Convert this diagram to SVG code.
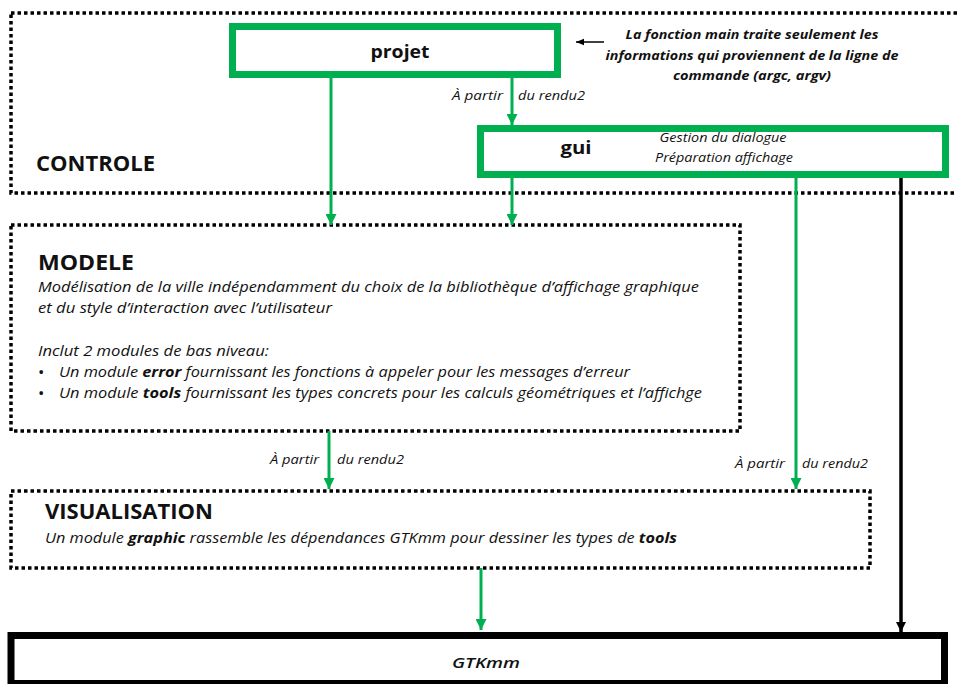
<svg xmlns="http://www.w3.org/2000/svg" width="957" height="684" viewBox="0 0 957 684">
<style>
text{font-family:"Open Sans","Liberation Sans",sans-serif;fill:#111}
.dot{fill:none;stroke:#000;stroke-width:3.5;stroke-dasharray:3.5 3}
.gbox{fill:#fff;stroke:#00B050;stroke-width:7}
.kbox{fill:#fff;stroke:#000;stroke-width:7}
.h{font-weight:bold;font-size:22px}
.nm{font-weight:bold;font-size:18px;text-anchor:middle}
.it{font-style:italic;font-size:14.5px}
.sm{font-style:italic;font-size:12px}
.lab{font-style:italic;font-size:12.5px}
.ann{font-style:italic;font-weight:bold;font-size:13px;text-anchor:middle}
.b{font-weight:bold}
.g{stroke:#00B050;stroke-width:3;fill:none;marker-end:url(#ga)}
.k{stroke:#000;stroke-width:3.5;fill:none;marker-end:url(#ka)}
</style>
<defs>
<marker id="ga" viewBox="0 0 10 10" refX="10" refY="5" markerWidth="11" markerHeight="11" markerUnits="userSpaceOnUse" orient="auto"><path d="M0,0L10,5L0,10z" fill="#00B050"/></marker>
<marker id="ka" viewBox="0 0 10 10" refX="10" refY="5" markerWidth="10" markerHeight="10" markerUnits="userSpaceOnUse" orient="auto"><path d="M0,0L10,5L0,10z" fill="#000"/></marker>
<marker id="ks" viewBox="0 0 10 10" refX="10" refY="5" markerWidth="8" markerHeight="8" markerUnits="userSpaceOnUse" orient="auto"><path d="M0,1L10,5L0,9z" fill="#000"/></marker>
</defs>
<rect width="957" height="684" fill="#fff"/>

<g id="controle">
<rect class="dot" x="11" y="13" width="960" height="180"/>
<text class="h" x="36" y="171" textLength="119" lengthAdjust="spacingAndGlyphs">CONTROLE</text>
</g>

<g id="modele">
<rect class="dot" x="11" y="225" width="729" height="206"/>
<text class="h" x="38" y="270" textLength="96" lengthAdjust="spacingAndGlyphs">MODELE</text>
<text class="it" x="38" y="292" textLength="661" lengthAdjust="spacingAndGlyphs">Modélisation de la ville indépendamment du choix de la bibliothèque d’affichage graphique</text>
<text class="it" x="38" y="313" textLength="294" lengthAdjust="spacingAndGlyphs">et du style d’interaction avec l’utilisateur</text>
<text class="it" x="38" y="356" textLength="231" lengthAdjust="spacingAndGlyphs">Inclut 2 modules de bas niveau:</text>
<text x="38" y="378" font-size="17">•</text>
<text class="it" x="59" y="377" textLength="571" lengthAdjust="spacingAndGlyphs">Un module <tspan class="b">error</tspan> fournissant les fonctions à appeler pour les messages d’erreur</text>
<text x="38" y="399" font-size="17">•</text>
<text class="it" x="59" y="398" textLength="643" lengthAdjust="spacingAndGlyphs">Un module <tspan class="b">tools</tspan> fournissant les types concrets pour les calculs géométriques et l’affichge</text>
</g>

<g id="visualisation">
<rect class="dot" x="11" y="491" width="859" height="77"/>
<text class="h" x="45" y="519" textLength="168" lengthAdjust="spacingAndGlyphs">VISUALISATION</text>
<text class="it" x="45" y="543" textLength="632" lengthAdjust="spacingAndGlyphs">Un module <tspan class="b">graphic</tspan> rassemble les dépendances GTKmm pour dessiner les types de <tspan class="b">tools</tspan></text>
</g>

<g id="projet">
<rect class="gbox" x="232.5" y="26.5" width="325" height="48"/>
<text class="nm" x="400" y="58" textLength="59" lengthAdjust="spacingAndGlyphs">projet</text>
</g>

<g id="gui">
<rect class="gbox" x="480.5" y="128.5" width="465" height="46"/>
<text class="nm" x="576" y="154" textLength="31" lengthAdjust="spacingAndGlyphs">gui</text>
<text class="sm" x="723" y="142" text-anchor="middle" textLength="127" lengthAdjust="spacingAndGlyphs">Gestion du dialogue</text>
<text class="sm" x="724" y="162" text-anchor="middle" textLength="138" lengthAdjust="spacingAndGlyphs">Préparation affichage</text>
</g>

<g id="gtkmm">
<rect class="kbox" x="11" y="635.5" width="933.5" height="48"/>
<text class="it" x="486" y="668" text-anchor="middle" font-size="15" font-weight="600" textLength="68" lengthAdjust="spacingAndGlyphs">GTKmm</text>
</g>

<g id="note">
<text class="ann" x="752" y="39" textLength="253" lengthAdjust="spacingAndGlyphs">La fonction main traite seulement les</text>
<text class="ann" x="752" y="60" textLength="293" lengthAdjust="spacingAndGlyphs">informations qui proviennent de la ligne de</text>
<text class="ann" x="752" y="80" textLength="158" lengthAdjust="spacingAndGlyphs">commande (argc, argv)</text>
</g>

<g id="connectors">
<line class="g" x1="331" y1="78" x2="331" y2="225"/>
<line class="g" x1="512" y1="78" x2="512" y2="125"/>
<line class="g" x1="512" y1="178" x2="512" y2="225"/>
<line class="g" x1="796" y1="178" x2="796" y2="489"/>
<line class="g" x1="329" y1="431" x2="329" y2="489"/>
<line class="g" x1="481" y1="568" x2="481" y2="630"/>
<line class="k" x1="901" y1="178" x2="901" y2="632"/>
<line x1="604" y1="42" x2="576" y2="42" stroke="#000" stroke-width="1.5" marker-end="url(#ks)"/>
<text class="lab" x="452" y="100" textLength="51" lengthAdjust="spacingAndGlyphs">À partir</text>
<text class="lab" x="518" y="100" textLength="67" lengthAdjust="spacingAndGlyphs">du rendu2</text>
<text class="lab" x="270" y="464" textLength="49" lengthAdjust="spacingAndGlyphs">À partir</text>
<text class="lab" x="337" y="464" textLength="67" lengthAdjust="spacingAndGlyphs">du rendu2</text>
<text class="lab" x="735" y="468" textLength="50" lengthAdjust="spacingAndGlyphs">À partir</text>
<text class="lab" x="802" y="468" textLength="66" lengthAdjust="spacingAndGlyphs">du rendu2</text>
</g>
</svg>
